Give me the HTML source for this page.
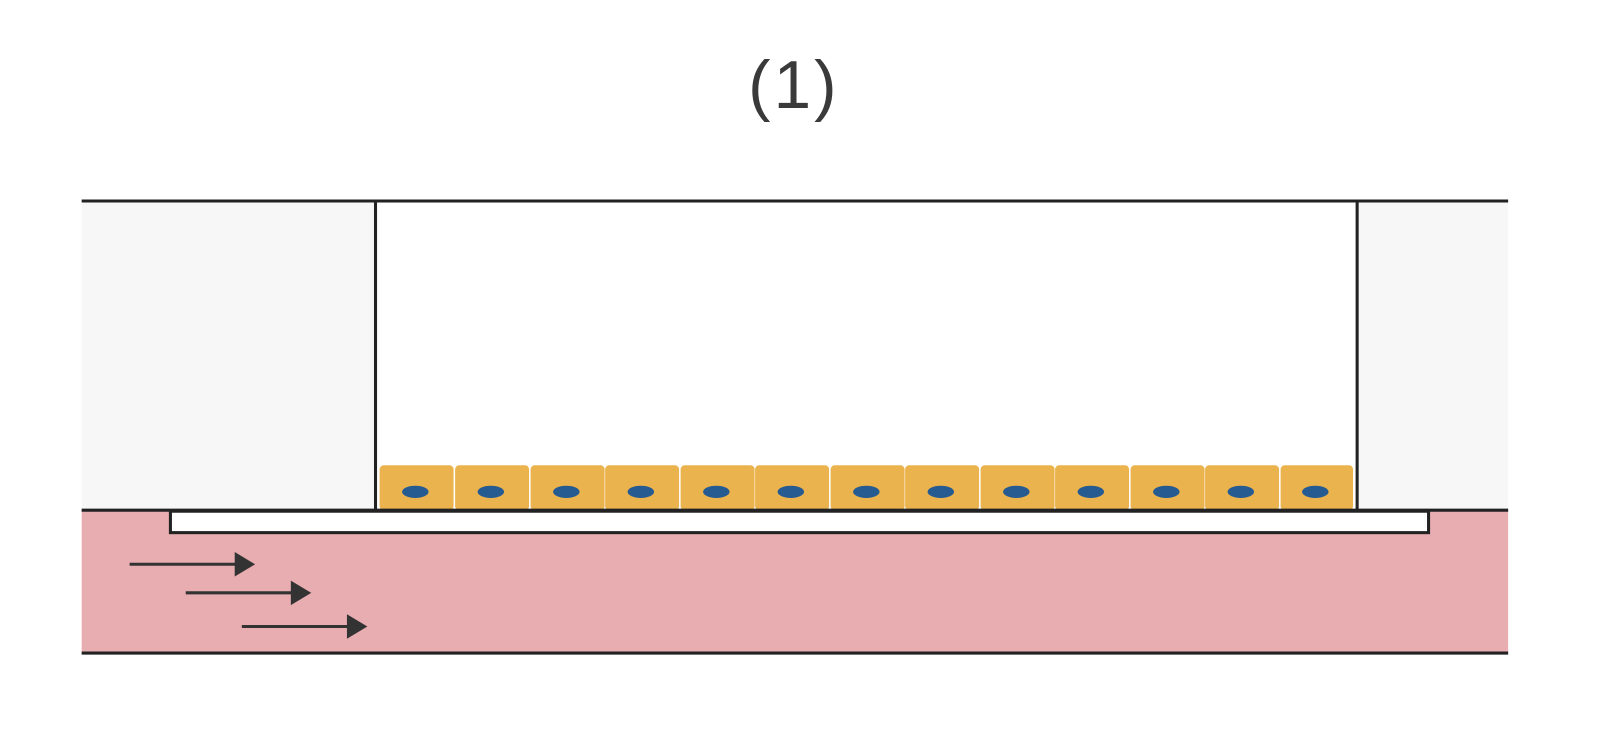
<!DOCTYPE html>
<html><head><meta charset="utf-8"><style>body{margin:0;background:#fff}svg{display:block}</style></head>
<body>
<svg width="1600" height="736" viewBox="0 0 1568 721.3" xmlns="http://www.w3.org/2000/svg">
<text x="778" y="106" font-family="Liberation Sans, DejaVu Sans, sans-serif" font-size="66" fill="#3a3a3a" text-anchor="middle" letter-spacing="3">(1)</text>
<rect x="80" y="197" width="288" height="303" fill="#f7f7f7"/>
<rect x="1330" y="197" width="148" height="303" fill="#f7f7f7"/>
<rect x="80" y="500" width="1398" height="140" fill="#e8adb0"/>
<line x1="80" y1="197" x2="1478" y2="197" stroke="#222" stroke-width="3"/>
<line x1="368" y1="197" x2="368" y2="500" stroke="#222" stroke-width="3"/>
<line x1="1330" y1="197" x2="1330" y2="500" stroke="#222" stroke-width="3"/>
<g fill="#ebb34d">
<rect x="372" y="456" width="72.5" height="44" rx="4"/><rect x="446" y="456" width="72.5" height="44" rx="4"/><rect x="520" y="456" width="72.5" height="44" rx="4"/><rect x="593" y="456" width="72.5" height="44" rx="4"/><rect x="667" y="456" width="72.5" height="44" rx="4"/><rect x="740" y="456" width="72.5" height="44" rx="4"/><rect x="814" y="456" width="72.5" height="44" rx="4"/><rect x="887" y="456" width="72.5" height="44" rx="4"/><rect x="961" y="456" width="72.5" height="44" rx="4"/><rect x="1034" y="456" width="72.5" height="44" rx="4"/><rect x="1108" y="456" width="72.5" height="44" rx="4"/><rect x="1181" y="456" width="72.5" height="44" rx="4"/><rect x="1255" y="456" width="71" height="44" rx="4"/>
</g>
<g fill="#265b92">
<ellipse cx="407" cy="482" rx="13" ry="6"/><ellipse cx="481" cy="482" rx="13" ry="6"/><ellipse cx="555" cy="482" rx="13" ry="6"/><ellipse cx="628" cy="482" rx="13" ry="6"/><ellipse cx="702" cy="482" rx="13" ry="6"/><ellipse cx="775" cy="482" rx="13" ry="6"/><ellipse cx="849" cy="482" rx="13" ry="6"/><ellipse cx="922" cy="482" rx="13" ry="6"/><ellipse cx="996" cy="482" rx="13" ry="6"/><ellipse cx="1069" cy="482" rx="13" ry="6"/><ellipse cx="1143" cy="482" rx="13" ry="6"/><ellipse cx="1216" cy="482" rx="13" ry="6"/><ellipse cx="1289" cy="482" rx="13" ry="6"/>
</g>
<rect x="167" y="501" width="1233" height="21" fill="#fff" stroke="#222" stroke-width="3"/>
<line x1="80" y1="500" x2="1478" y2="500" stroke="#222" stroke-width="3"/>
<line x1="80" y1="640" x2="1478" y2="640" stroke="#222" stroke-width="3"/>
<g stroke="#333" stroke-width="3" fill="#333">
<line x1="127" y1="553" x2="232" y2="553"/><polygon points="230,541 250,553 230,565" stroke="none"/>
<line x1="182" y1="581" x2="287" y2="581"/><polygon points="285,569 305,581 285,593" stroke="none"/>
<line x1="237" y1="614" x2="342" y2="614"/><polygon points="340,602 360,614 340,626" stroke="none"/>
</g>
</svg>
</body></html>
